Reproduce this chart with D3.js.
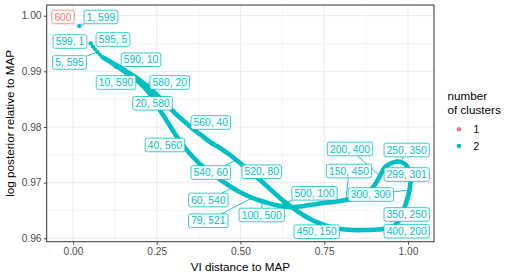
<!DOCTYPE html>
<html>
<head>
<meta charset="utf-8">
<script src="https://cdn.jsdelivr.net/npm/d3@7"></script>
<style>
  body { margin: 0; background: #fff; }
  svg { display: block; font-family: "Liberation Sans", Arial, Helvetica, sans-serif; }
  .axis text { fill: #4d4d4d; font-size: 10.2px; font-family: "Liberation Sans", Arial, sans-serif; }
  .axis line { stroke: #333333; stroke-width: 0.9; }
  .axis path { display: none; }
  .title { fill: #000; font-size: 11.7px; }
  .lab { font-size: 10.3px; }
</style>
</head>
<body>
<script>
// partitions: [VI distance to MAP, log posterior relative to MAP]
// first few partitions are spread out and show as single dots
var sparse = [[0.0188,0.99815],[0.0528,0.99504],[0.0597,0.99447],[0.0657,0.99396],
  [0.0731,0.99348],[0.0797,0.99303],[0.0866,0.99258]];

// branch from "1, 599" round to "299, 301"
var branchA = [[0.0925,0.9924],[0.1254,0.99114],[0.1552,0.98988],[0.1851,0.98863],[0.2090,0.98737],
  [0.2299,0.98593],[0.2478,0.98449],[0.2597,0.98305],[0.2746,0.98162],[0.2896,0.98018],
  [0.3045,0.97874],[0.3194,0.97748],[0.3373,0.97605],[0.3582,0.97461],[0.3821,0.97317],
  [0.4090,0.97191],[0.4358,0.97066],[0.4627,0.96958],[0.4925,0.9685],[0.5224,0.9676],
  [0.5522,0.96688],[0.5821,0.96634],[0.6119,0.96589],[0.6418,0.96562],[0.6776,0.96571],
  [0.7373,0.96625],[0.7970,0.9667],[0.8567,0.96747],[0.8806,0.96823],[0.8985,0.9694],
  [0.9164,0.9712],[0.9313,0.97281],[0.9507,0.97353],[0.9701,0.9738],[0.9910,0.97335],
  [1.0015,0.97245],[1.0060,0.9712],[1.0075,0.9703]];

// branch from "599, 1" round to "300, 300"
var branchB = [[0.0925,0.9924],[0.1254,0.99123],[0.1582,0.99006],[0.1910,0.9888],[0.2209,0.98737],
  [0.2478,0.98593],[0.2687,0.98467],[0.2896,0.98341],[0.3104,0.98216],[0.3343,0.9809],
  [0.3582,0.97964],[0.3821,0.97856],[0.4090,0.9773],[0.4388,0.97623],[0.4687,0.97497],
  [0.4985,0.97353],[0.5284,0.97209],[0.5582,0.97048],[0.5881,0.96886],[0.6179,0.96724],
  [0.6478,0.9658],[0.6776,0.96455],[0.7075,0.96347],[0.7373,0.96266],[0.7672,0.96203],
  [0.7970,0.96167],[0.8328,0.96149],[0.8716,0.96149],[0.9104,0.96158],[0.9373,0.96176],
  [0.9612,0.96239],[0.9761,0.96347],[0.9881,0.96526],[0.9970,0.96688],[1.0045,0.96868]];

// labelled partitions (cluster sizes) and where their labels sit, in data units
var labelText = ["600","1, 599","599, 1","595, 5","5, 595","590, 10","10, 590","580, 20","20, 580",
  "560, 40","40, 560","540, 60","520, 80","60, 540","79, 521","100, 500","500, 100","450, 150",
  "400, 200","350, 250","300, 300","299, 301","250, 350","200, 400","150, 450"];
var labelVi = [0,0.0188,0.0528,0.0597,0.0731,0.1284,0.1612,0.2030,0.2299,0.3463,0.3194,0.4866,
  0.5642,0.4746,0.5343,0.5642,0.6299,0.7313,0.9313,0.9821,1.0045,1.0075,0.9791,0.9164,0.8149];
var labelLp = [1,0.99815,0.99504,0.99447,0.99348,0.99078,0.9897,0.98773,0.98593,0.98018,0.97748,
  0.97407,0.97012,0.96904,0.96724,0.9667,0.96634,0.96284,0.96167,0.96419,0.96868,0.9703,0.97371,
  0.9712,0.96697];
var labelClusters = ["1","2","2","2","2","2","2","2","2","2","2","2","2","2","2","2","2","2","2",
  "2","2","2","2","2","2"];
var labelAtVi = [-0.0299,0.0836,-0.009,0.1194,-0.0104,0.2030,0.1284,0.2887,0.2373,0.4113,0.2746,
  0.4113,0.5633,0.4039,0.4039,0.5633,0.7209,0.7275,0.9961,0.9961,0.8890,0.9961,0.9961,0.8269,0.8239];
var labelAtLp = [0.99977,0.99977,0.99536,0.99572,0.99159,0.99209,0.988,0.988,0.98426,0.98081,
  0.97677,0.97182,0.97197,0.96688,0.96316,0.96419,0.96809,0.96119,0.96128,0.96428,0.96787,0.97146,
  0.97587,0.97605,0.97209];

var clusterLevels = ["1","2"];
var color = {"1":"#F8766D", "2":"#00BFC4"};
var xTicks = [0,0.25,0.5,0.75,1], xMinor = [0.125,0.375,0.625,0.875];
var yTicks = [0.96,0.97,0.98,0.99,1.00], yMinor = [0.965,0.975,0.985,0.995];

var W = 515, H = 277;
var panel = {left: 46.7, right: 434, top: 5, bottom: 241.7};

var x = d3.scaleLinear().domain([-0.0785, 1.0776]).range([panel.left, panel.right]);
var y = d3.scaleLinear().domain([0.95939, 1.00192]).range([panel.bottom, panel.top]);

var svg = d3.select("body").append("svg").attr("width", W).attr("height", H);
svg.append("rect").attr("width", W).attr("height", H).attr("fill", "#fff");

svg.append("defs").append("clipPath").attr("id", "clip").append("rect")
  .attr("x", panel.left).attr("y", panel.top)
  .attr("width", panel.right - panel.left).attr("height", panel.bottom - panel.top);

// grid
var grid = svg.append("g").attr("stroke", "#EBEBEB");
grid.selectAll(".xm").data(xMinor).enter().append("line")
  .attr("x1", d => x(d)).attr("x2", d => x(d)).attr("y1", panel.top).attr("y2", panel.bottom)
  .attr("stroke-width", 0.5);
grid.selectAll(".ym").data(yMinor).enter().append("line")
  .attr("y1", d => y(d)).attr("y2", d => y(d)).attr("x1", panel.left).attr("x2", panel.right)
  .attr("stroke-width", 0.5);
grid.selectAll(".xM").data(xTicks).enter().append("line")
  .attr("x1", d => x(d)).attr("x2", d => x(d)).attr("y1", panel.top).attr("y2", panel.bottom)
  .attr("stroke-width", 1);
grid.selectAll(".yM").data(yTicks).enter().append("line")
  .attr("y1", d => y(d)).attr("y2", d => y(d)).attr("x1", panel.left).attr("x2", panel.right)
  .attr("stroke-width", 1);

var plot = svg.append("g").attr("clip-path", "url(#clip)");

// the dense run of partitions shows as a thick band
var line = d3.line().x(d => x(d[0])).y(d => y(d[1])).curve(d3.curveCatmullRom.alpha(0.5));
plot.append("path")
  .attr("d", line(branchA.concat(branchB.slice().reverse())))
  .attr("fill", "none").attr("stroke", color["2"]).attr("stroke-width", 4.6)
  .attr("stroke-linecap", "round").attr("stroke-linejoin", "round");

plot.selectAll(".dot").data(sparse).enter().append("circle")
  .attr("cx", d => x(d[0])).attr("cy", d => y(d[1])).attr("r", 2)
  .attr("fill", color["2"]);

var labels = labelText.map(function(t, i) {
  return {text: t, px: x(labelVi[i]), py: y(labelLp[i]), k: labelClusters[i],
          cx: x(labelAtVi[i]), cy: y(labelAtLp[i])};
});

plot.selectAll(".lp").data(labels).enter().append("circle")
  .attr("cx", d => d.px).attr("cy", d => d.py).attr("r", 2).attr("fill", d => color[d.k]);

// labels: segments under boxes, boxes under text
var segG = plot.append("g"), boxG = plot.append("g"), txtG = plot.append("g");
var boxH = 13.6, pad = 2.6;

txtG.selectAll("text").data(labels).enter().append("text")
  .attr("class", "lab")
  .attr("x", d => d.cx).attr("y", d => d.cy).attr("dy", "0.35em")
  .attr("text-anchor", "middle").attr("fill", d => color[d.k])
  .text(d => d.text)
  .each(function(d) { d.w = this.getComputedTextLength() + 2 * pad; });

labels.forEach(function(d) {
  var dx = d.px - d.cx, dy = d.py - d.cy;
  var hw = d.w / 2, hh = boxH / 2;
  if (Math.abs(dx) <= hw && Math.abs(dy) <= hh) return;
  var t = Math.min(dx ? hw / Math.abs(dx) : Infinity, dy ? hh / Math.abs(dy) : Infinity);
  var sx = d.cx + t * dx, sy = d.cy + t * dy;
  var len = Math.sqrt(dx * dx + dy * dy);
  var ex = d.px - 1.5 * dx / len, ey = d.py - 1.5 * dy / len;
  if (Math.hypot(ex - sx, ey - sy) < 3) return;
  segG.append("line").attr("x1", sx).attr("y1", sy).attr("x2", ex).attr("y2", ey)
    .attr("stroke", color[d.k]).attr("stroke-width", 0.9);
});

boxG.selectAll("rect").data(labels).enter().append("rect")
  .attr("x", d => d.cx - d.w / 2).attr("y", d => d.cy - boxH / 2)
  .attr("width", d => d.w).attr("height", boxH).attr("rx", 2).attr("ry", 2)
  .attr("fill", "#fff").attr("stroke", d => color[d.k]).attr("stroke-width", 0.8);

// panel border
svg.append("rect")
  .attr("x", panel.left).attr("y", panel.top)
  .attr("width", panel.right - panel.left).attr("height", panel.bottom - panel.top)
  .attr("fill", "none").attr("stroke", "#333333").attr("stroke-width", 1);

// axes
svg.append("g").attr("class", "axis").attr("transform", "translate(0," + panel.bottom + ")")
  .call(d3.axisBottom(x).tickValues(xTicks).tickFormat(d3.format(".2f")).tickSize(2.9).tickPadding(3));
svg.append("g").attr("class", "axis").attr("transform", "translate(" + panel.left + ",0)")
  .call(d3.axisLeft(y).tickValues(yTicks).tickFormat(d3.format(".2f")).tickSize(2.9).tickPadding(2.3));

svg.append("text").attr("class", "title")
  .attr("x", (panel.left + panel.right) / 2).attr("y", 271)
  .attr("text-anchor", "middle").text("VI distance to MAP");
svg.append("text").attr("class", "title")
  .attr("transform", "translate(14," + (panel.top + panel.bottom) / 2 + ") rotate(-90)")
  .attr("text-anchor", "middle").text("log posterior relative to MAP");

// legend
var leg = svg.append("g");
leg.append("text").attr("class", "title").attr("x", 447.5).attr("y", 99.5).text("number");
leg.append("text").attr("class", "title").attr("x", 447.5).attr("y", 113.5).text("of clusters");
clusterLevels.forEach(function(k, i) {
  var ky = 129.3 + i * 16.7;
  leg.append("circle").attr("cx", 459).attr("cy", ky).attr("r", 2.2).attr("fill", color[k]);
  leg.append("text").attr("x", 473.5).attr("y", ky).attr("dy", "0.35em")
    .style("font-size", "10.2px").attr("fill", "#000").text(k);
});
</script>
</body>
</html>
